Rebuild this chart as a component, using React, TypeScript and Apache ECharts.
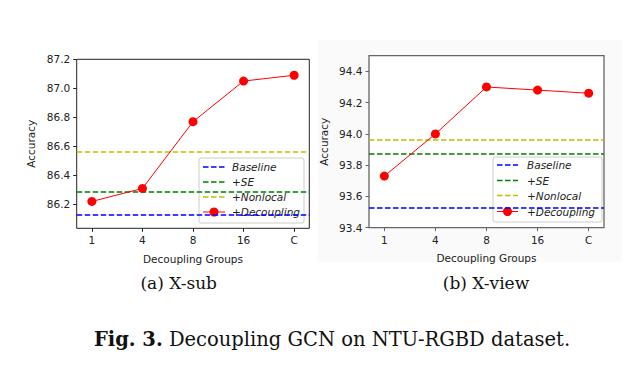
import React, { useEffect, useRef } from "react";
import * as echarts from "echarts";

const groups = ["1", "4", "8", "16", "C"];
const xSubDecoupling = [86.22, 86.31, 86.77, 87.05, 87.09];
const xSubBaseline = 86.13;
const xSubSE = 86.29;
const xSubNonlocal = 86.56;
const xSubYTicks = [86.2, 86.4, 86.6, 86.8, 87.0, 87.2];

const xViewDecoupling = [93.73, 94.0, 94.3, 94.28, 94.26];
const xViewBaseline = 93.53;
const xViewSE = 93.87;
const xViewNonlocal = 93.96;
const xViewYTicks = [93.4, 93.6, 93.8, 94.0, 94.2, 94.4];

const legendNames = ["Baseline", "+SE", "+Nonlocal", "+Decoupling"];
const lineColors = ["#0000ff", "#008000", "#bfbf00", "#ff0000"];

const FONT = "DejaVu Sans";
const TXT = "#222";

function buildAxes(gi: number, yMin: number, yMax: number, yTicks: number[], frameColor: string) {
  const xAxis = {
    type: "value",
    gridIndex: gi,
    min: -0.3,
    max: 4.3,
    name: "Decoupling Groups",
    nameLocation: "middle",
    nameGap: 25,
    nameTextStyle: { fontFamily: FONT, fontSize: 10.5, color: TXT },
    splitLine: { show: false },
    axisLine: { show: false, onZero: false },
    axisTick: {
      show: true,
      length: 3.5,
      inside: false,
      customValues: [0, 1, 2, 3, 4],
      lineStyle: { color: frameColor, width: 1 },
    },
    axisLabel: {
      customValues: [0, 1, 2, 3, 4],
      formatter: (v: number) => groups[Math.round(v)] ?? "",
      fontFamily: FONT,
      fontSize: 10.5,
      color: TXT,
      margin: 6.5,
    },
  };
  const yAxis = {
    type: "value",
    gridIndex: gi,
    min: yMin,
    max: yMax,
    name: "Accuracy",
    nameLocation: "middle",
    nameGap: 40,
    nameTextStyle: { fontFamily: FONT, fontSize: 10.5, color: TXT },
    splitLine: { show: false },
    axisLine: { show: false, onZero: false },
    axisTick: {
      show: true,
      length: 3.5,
      customValues: yTicks,
      lineStyle: { color: frameColor, width: 1 },
    },
    axisLabel: {
      customValues: yTicks,
      formatter: (v: number) => v.toFixed(1),
      fontFamily: FONT,
      fontSize: 10.5,
      color: TXT,
      margin: 6.5,
    },
  };
  return { xAxis, yAxis };
}

function hSeries(gi: number, value: number, color: string) {
  return {
    type: "line",
    xAxisIndex: gi,
    yAxisIndex: gi,
    data: [],
    silent: true,
    markLine: {
      silent: true,
      symbol: ["none", "none"],
      label: { show: false },
      lineStyle: { color, width: 1.5, type: [5.5, 2.5], opacity: 1 },
      emphasis: { disabled: true },
      data: [{ yAxis: value }],
    },
  };
}

function decSeries(gi: number, vals: number[]) {
  return {
    type: "line",
    xAxisIndex: gi,
    yAxisIndex: gi,
    data: vals.map((v, i) => [i, v]),
    symbol: "circle",
    symbolSize: 9,
    showSymbol: true,
    itemStyle: { color: "#ff0000" },
    lineStyle: { color: "#ff0000", width: 1 },
    z: 5,
  };
}

function legendGraphic(bx: number, by: number, bw: number, bh: number, rows: number[], hx0: number, hx1: number, tx: number) {
  const children: any[] = [
    {
      type: "rect",
      shape: { x: bx, y: by, width: bw, height: bh, r: 2 },
      style: { fill: "rgba(255,255,255,0.8)", stroke: "#cccccc", lineWidth: 1 },
    },
  ];
  legendNames.forEach((name, i) => {
    const y = rows[i];
    const dashed = i < 3;
    children.push({
      type: "line",
      shape: { x1: hx0, y1: y, x2: hx1, y2: y },
      style: {
        stroke: lineColors[i],
        lineWidth: dashed ? 1.5 : 1,
        lineDash: dashed ? [5.5, 2.5] : null,
      },
    });
    if (!dashed) {
      children.push({
        type: "circle",
        shape: { cx: (hx0 + hx1) / 2, cy: y, r: 4.5 },
        style: { fill: "#ff0000" },
      });
    }
    children.push({
      type: "text",
      x: tx,
      y,
      style: {
        text: name,
        fontFamily: FONT,
        fontStyle: "italic",
        fontSize: 10.5,
        fill: TXT,
        verticalAlign: "middle",
        align: "left",
      },
    });
  });
  return { type: "group", z: 100, children };
}

export default function App() {
  const ref = useRef<HTMLDivElement>(null);
  useEffect(() => {
    document.body.style.margin = "0";
    const chart = echarts.init(ref.current!, null, { renderer: "svg" });
    const a = buildAxes(0, 86.035, 87.2, xSubYTicks, "#222");
    const b = buildAxes(1, 93.4, 94.5, xViewYTicks, "#666");
    chart.setOption({
      animation: false,
      backgroundColor: "#ffffff",
      grid: [
        { left: 76.7, top: 59.3, width: 232.6, height: 169, show: true, borderColor: "#222", borderWidth: 1, backgroundColor: "#fff", containLabel: false },
        { left: 369, top: 55.7, width: 235, height: 172, show: true, borderColor: "#666", borderWidth: 1.3, backgroundColor: "#fff", containLabel: false },
      ],
      xAxis: [a.xAxis, b.xAxis],
      yAxis: [a.yAxis, b.yAxis],
      series: [
        hSeries(0, xSubBaseline, lineColors[0]),
        hSeries(0, xSubSE, lineColors[1]),
        hSeries(0, xSubNonlocal, lineColors[2]),
        decSeries(0, xSubDecoupling),
        hSeries(1, xViewBaseline, lineColors[0]),
        hSeries(1, xViewSE, lineColors[1]),
        hSeries(1, xViewNonlocal, lineColors[2]),
        decSeries(1, xViewDecoupling),
      ],
      graphic: [
        {
          type: "rect",
          z: -10,
          silent: true,
          shape: { x: 318, y: 40, width: 304, height: 222 },
          style: { fill: "#fafafa" },
        },
        legendGraphic(199, 158, 105, 65, [167, 182, 197, 212], 203, 225, 232),
        legendGraphic(493, 157, 109, 65, [165, 180.5, 195.5, 211.5], 497, 518, 527),
        {
          type: "text",
          x: 178.7,
          y: 283,
          style: { text: "(a) X-sub", fontFamily: "DejaVu Serif", fontSize: 17, fill: "#111", align: "center", verticalAlign: "middle" },
        },
        {
          type: "text",
          x: 486,
          y: 283,
          style: { text: "(b) X-view", fontFamily: "DejaVu Serif", fontSize: 17, fill: "#111", align: "center", verticalAlign: "middle" },
        },
        {
          type: "text",
          x: 332,
          y: 339,
          style: {
            text: "{b|Fig. 3.} Decoupling GCN on NTU-RGBD dataset.",
            fontFamily: "DejaVu Serif",
            fontSize: 19.5,
            fill: "#111",
            align: "center",
            verticalAlign: "middle",
            rich: { b: { fontFamily: "DejaVu Serif", fontSize: 19.5, fontWeight: "bold", fill: "#111" } },
          },
        },
      ],
    });
    return () => chart.dispose();
  }, []);
  return <div ref={ref} style={{ position: "absolute", left: 0, top: 0, width: 636, height: 366 }} />;
}
